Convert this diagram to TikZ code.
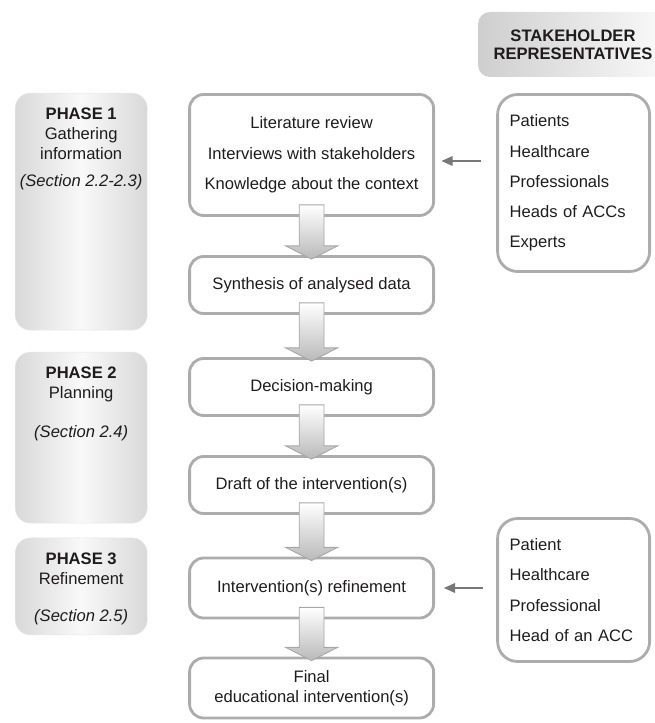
\documentclass[tikz,border=0pt]{standalone}
\usepackage{fontspec}
\setmainfont{Liberation Sans}
\usetikzlibrary{calc,positioning,arrows.meta}

\definecolor{edgegray}{RGB}{172,172,172}
\definecolor{feedgray}{RGB}{120,120,120}
\definecolor{inkgray}{RGB}{30,28,28}

% block arrow from the bottom of one box into the top of the next
\newcommand{\flowarrow}[2]{%
  \draw[blockarrow] let \p1=($(#1.south)+(0,0.3)$), \p2=($(#2.north)+(0,-0.1)$) in
    (\x1-0.31cm,\y1) -- (\x1+0.31cm,\y1) -- (\x1+0.31cm,\y2+0.33cm) -- (\x1+0.65cm,\y2+0.33cm)
    -- (\x1,\y2) -- (\x1-0.65cm,\y2+0.33cm) -- (\x1-0.31cm,\y2+0.33cm) -- cycle;}

\begin{document}
\begin{tikzpicture}[
  text=inkgray,
  mainbox/.style={draw=edgegray, line width=2pt, rounded corners=0.35cm, align=center, minimum width=6.1cm, minimum height=1.425cm, inner sep=0pt, font=\fontsize{11.8}{21.7}\selectfont},
  phasebox/.style={draw=gray!18, thin, rounded corners=0.38cm, left color=gray!30, right color=gray!30, middle color=gray!5, minimum width=3.3cm},
  phasetext/.style={align=center, inner sep=0pt, font=\fontsize{11.8}{14.2}\selectfont},
  stakebox/.style={draw=edgegray, line width=2pt, rounded corners=0.5cm, align=left, text width=3.2cm, inner xsep=0.3cm, font=\fontsize{11.8}{21.5}\selectfont},
  headbox/.style={rounded corners=0.3cm, left color=gray!38, right color=gray!4, minimum width=4.75cm, minimum height=1.625cm, align=center, font=\bfseries\fontsize{11.8}{12.8}\selectfont},
  blockarrow/.style={draw=gray!70, line width=0.6pt, top color=white, bottom color=gray!55},
  feed/.style={-{Triangle[length=0.28cm,width=0.24cm]}, draw=feedgray, line width=1.1pt}
]
\useasboundingbox (0,0) rectangle (16.375,-18.075);

% phases on the left
\node[phasebox, minimum height=5.925cm] (phaseA) at (2.03,-5.29) {};
\node[phasebox, minimum height=4.275cm] (phaseB) at (2.03,-10.94) {};
\node[phasebox, minimum height=2.425cm] (phaseC) at (2.03,-14.66) {};
\node[phasetext, below=0.375cm of phaseA.north] (phaseAtxt) {\textbf{PHASE 1}\\Gathering\\information\\[0.18cm]\textit{(Section 2.2-2.3)}};
\node[phasetext, below=0.375cm of phaseB.north] (phaseBtxt) {\textbf{PHASE 2}\\Planning\\[0.47cm]\textit{(Section 2.4)}};
\node[phasetext, below=0.375cm of phaseC.north] (phaseCtxt) {\textbf{PHASE 3}\\Refinement\\[0.42cm]\textit{(Section 2.5)}};

% main flow
\node[mainbox, minimum height=3.025cm] (lit) at (7.79,-3.875) {Literature review\\Interviews with stakeholders\\Knowledge about the context};
\node[mainbox] (synth) at (7.79,-7.125) {Synthesis of analysed data};
\node[mainbox] (decide) at (7.79,-9.675) {Decision-making};
\node[mainbox] (draft) at (7.79,-12.125) {Draft of the intervention(s)};
\node[mainbox, minimum height=1.5cm] (refine) at (7.79,-14.7) {Intervention(s) refinement};
\node[mainbox, minimum height=1.5cm, font=\fontsize{11.8}{14.2}\selectfont] (final) at (7.79,-17.2) {Final\\educational intervention(s)};

\flowarrow{lit}{synth}
\flowarrow{synth}{decide}
\flowarrow{decide}{draft}
\flowarrow{draft}{refine}
\flowarrow{refine}{final}

% stakeholders on the right
\node[headbox] (head) at (14.325,-1.1125) {STAKEHOLDER\\REPRESENTATIVES};
\node[stakebox, minimum height=4.425cm] (stakeA) at (14.34,-4.575) {Patients\\Healthcare\\Professionals\\Heads of ACCs\\Experts};
\node[stakebox, minimum height=3.575cm] (stakeB) at (14.34,-14.75) {Patient\\Healthcare\\Professional\\Head of an ACC};

\draw[feed] ($(stakeA.west |- lit.east)+(-0.375,-0.15)$) -- ($(lit.east)+(0.16,-0.15)$);
\draw[feed] ($(stakeB.west |- refine.east)+(-0.33,0)$) -- ($(refine.east)+(0.22,0)$);
\end{tikzpicture}
\end{document}
